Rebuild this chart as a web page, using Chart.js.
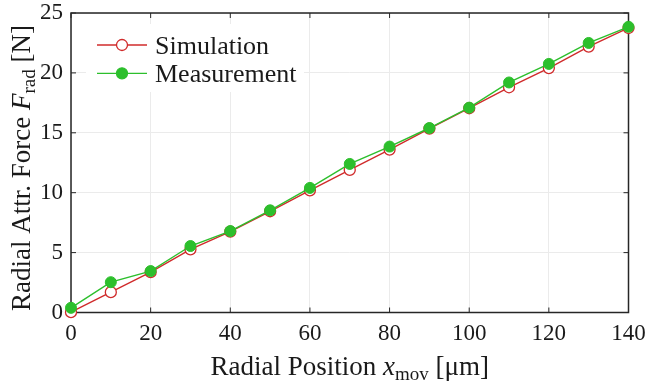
<!DOCTYPE html>
<html>
<head>
<meta charset="utf-8">
<script src="https://cdn.jsdelivr.net/npm/chart.js@4"></script>
<style>
    html, body { margin: 0; padding: 0; background: #fff; }
    .chart-box { width: 648px; height: 384px; }
</style>
</head>
<body>
<div class="chart-box"><canvas id="myChart"></canvas></div>
<script>
const positions = [0, 10, 20, 30, 40, 50, 60, 70, 80, 90, 100, 110, 120, 130, 140],
    simulation = [0.03, 1.70, 3.37, 5.27, 6.75, 8.45, 10.20, 11.90, 13.60, 15.35, 17.05, 18.80, 20.40, 22.20, 23.75],
    measurement = [0.39, 2.53, 3.46, 5.55, 6.80, 8.53, 10.40, 12.40, 13.85, 15.40, 17.10, 19.20, 20.75, 22.50, 23.85],
    xTicks = [0, 20, 40, 60, 80, 100, 120, 140],
    yTicks = [0, 5, 10, 15, 20, 25],
    seriesNames = ["Simulation", "Measurement"];

const RED = "#d02b2b",
    GREEN = "#2cbf2c",
    AXIS = "#262626",
    FONT = "'Liberation Serif', 'Times New Roman', serif";

// draws a list of text runs (normal / italic / subscript) centred on x
const drawRuns = (ctx, runs, x, y, size) => {
    const subSize = Math.round(size * 0.7)
    const fontOf = r => r.it ? `italic ${size}px ${FONT}` : r.sub ? `${subSize}px ${FONT}` : `${size}px ${FONT}`
    let total = 0
    for (const r of runs) {
        ctx.font = fontOf(r)
        r.w = ctx.measureText(r.t).width
        total += r.w
    }
    let cx = x - total / 2
    ctx.textAlign = "left"
    ctx.textBaseline = "alphabetic"
    for (const r of runs) {
        ctx.font = fontOf(r)
        ctx.fillText(r.t, cx, r.sub ? y + size * 0.2 : y)
        cx += r.w
    }
}

const framePlugin = {
    id: "frame",
    beforeDatasetsDraw(chart) {
        const { ctx, chartArea: a, scales } = chart
        ctx.save()
        ctx.strokeStyle = AXIS
        ctx.lineWidth = 1.5
        ctx.strokeRect(a.left, a.top, a.right - a.left, a.bottom - a.top)
        ctx.lineWidth = 1
        ctx.beginPath()
        for (const v of xTicks) {//inward ticks top and bottom
            const px = scales.x.getPixelForValue(v)
            ctx.moveTo(px, a.bottom); ctx.lineTo(px, a.bottom - 5)
            ctx.moveTo(px, a.top); ctx.lineTo(px, a.top + 5)
        }
        for (const v of yTicks) {
            const py = scales.y.getPixelForValue(v)
            ctx.moveTo(a.left, py); ctx.lineTo(a.left + 5, py)
            ctx.moveTo(a.right, py); ctx.lineTo(a.right - 5, py)
        }
        ctx.stroke()
        ctx.restore()
    },
    afterDatasetsDraw(chart) {
        const ctx = chart.ctx
        ctx.save()
        // legend
        ctx.fillStyle = "#fff"
        ctx.fillRect(86, 24, 218, 68)
        const rows = [45, 73.3],
            colors = [RED, GREEN],
            fills = ["#fff", GREEN]
        rows.forEach((ry, i) => {
            ctx.strokeStyle = colors[i]
            ctx.lineWidth = 1.3
            ctx.beginPath()
            ctx.moveTo(97, ry); ctx.lineTo(147, ry)
            ctx.stroke()
            ctx.beginPath()
            ctx.arc(122, ry, 5.5, 0, Math.PI * 2)
            ctx.fillStyle = fills[i]
            ctx.fill()
            ctx.stroke()
            ctx.fillStyle = "#1a1a1a"
            ctx.font = `26px ${FONT}`
            ctx.textAlign = "left"
            ctx.textBaseline = "alphabetic"
            ctx.fillText(seriesNames[i], 155, ry + 8.5)
        })
        // axis titles
        const a = chart.chartArea
        ctx.fillStyle = "#1a1a1a"
        drawRuns(ctx, [{ t: "Radial Position " }, { t: "x", it: true }, { t: "mov", sub: true }, { t: " [μm]" }],
            (a.left + a.right) / 2, 375, 27)
        ctx.translate(30, 168)
        ctx.rotate(-Math.PI / 2)
        drawRuns(ctx, [{ t: "Radial Attr. Force " }, { t: "F", it: true }, { t: "rad", sub: true }, { t: " [N]" }],
            0, 0, 27)
        ctx.restore()
    }
}

const tickFont = { family: FONT, size: 23 }

const ctx = document.getElementById("myChart").getContext("2d"),
    myChart = new Chart(ctx, {
        type: "line",
        data: {
            datasets: [{
                label: seriesNames[0],
                data: positions.map((x, i) => ({ x, y: simulation[i] })),
                borderColor: RED,
                borderWidth: 1.4,
                pointRadius: 5.5,
                pointBackgroundColor: "#fff",
                pointBorderColor: RED,
                pointBorderWidth: 1.3,
                tension: 0,
                clip: false,
                order: 1
            }, {
                label: seriesNames[1],
                data: positions.map((x, i) => ({ x, y: measurement[i] })),
                borderColor: GREEN,
                borderWidth: 1.4,
                pointRadius: 5.5,
                pointBackgroundColor: GREEN,
                pointBorderColor: GREEN,
                pointBorderWidth: 1,
                tension: 0,
                clip: false,
                order: 0
            }]
        },
        options: {
            responsive: true,
            maintainAspectRatio: false,
            animation: false,
            devicePixelRatio: 1,
            layout: { padding: { top: 13, right: 19.5, left: 0, bottom: 0 } },
            plugins: { legend: { display: false }, tooltip: { enabled: false } },
            scales: {
                x: {
                    type: "linear",
                    min: 0,
                    max: 140,
                    afterBuildTicks: s => { s.ticks = xTicks.map(v => ({ value: v })) },
                    afterFit: s => {
                        s.height = 71.5
                        s.paddingLeft = 0
                        s.paddingRight = 0
                    },
                    ticks: { font: tickFont, color: "#1a1a1a", padding: 8, maxRotation: 0 },
                    grid: { color: "#ebebeb", lineWidth: 1, drawTicks: false },
                    border: { display: false }
                },
                y: {
                    min: 0,
                    max: 25,
                    afterBuildTicks: s => { s.ticks = yTicks.map(v => ({ value: v })) },
                    afterFit: s => {
                        s.width = 71
                        s.paddingTop = 0
                        s.paddingBottom = 0
                    },
                    ticks: { font: tickFont, color: "#1a1a1a", padding: 8 },
                    grid: { color: "#ebebeb", lineWidth: 1, drawTicks: false },
                    border: { display: false }
                }
            }
        },
        plugins: [framePlugin]
    });
</script>
</body>
</html>
